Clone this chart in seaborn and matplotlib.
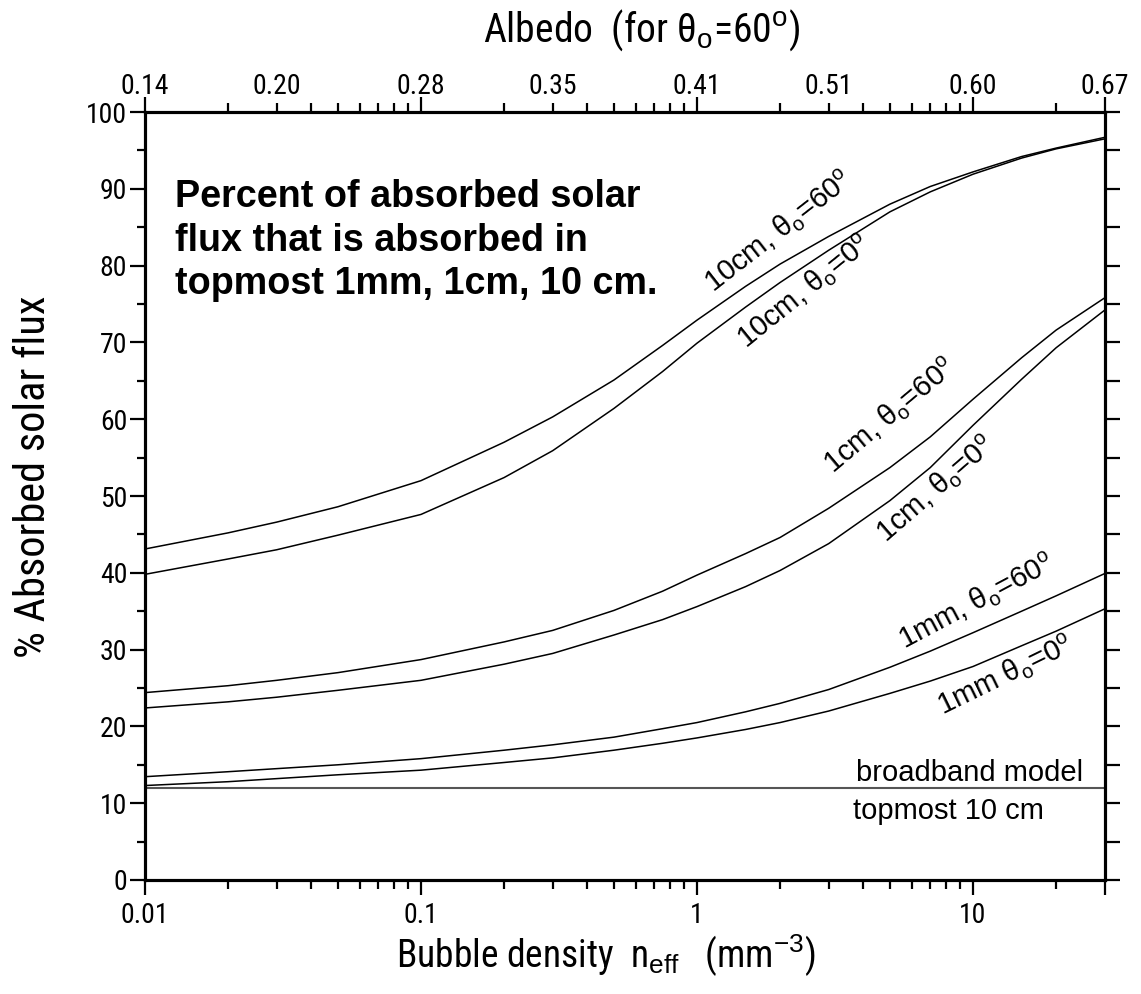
import matplotlib
matplotlib.use("Agg")
import matplotlib.pyplot as plt
import seaborn as sns
from matplotlib import font_manager
from matplotlib.ticker import FixedLocator, FuncFormatter, NullFormatter

# Bubble density n_eff (mm^-3)
n_eff = [0.01, 0.02, 0.03, 0.05, 0.1, 0.2, 0.3, 0.5, 0.75, 1, 1.5, 2, 3, 5, 7, 10, 15, 20, 30]

# % of absorbed solar flux absorbed in the topmost layer
cm10_sza60 = [43.1, 45.2, 46.6, 48.6, 52.0, 57.0, 60.3, 65.1, 69.6, 72.9, 77.3, 80.2, 83.8, 88.0, 90.3, 92.2, 94.2, 95.3, 96.7]
cm10_sza0 = [39.8, 41.8, 43.0, 44.9, 47.6, 52.4, 55.9, 61.4, 66.2, 69.9, 74.6, 77.8, 82.0, 87.0, 89.6, 91.9, 94.0, 95.2, 96.5]
cm1_sza60 = [24.4, 25.3, 26.0, 27.0, 28.7, 31.0, 32.5, 35.1, 37.6, 39.7, 42.5, 44.6, 48.4, 53.7, 57.7, 62.6, 68.0, 71.6, 75.8]
cm1_sza0 = [22.4, 23.2, 23.8, 24.7, 26.0, 28.1, 29.5, 31.9, 33.9, 35.6, 38.2, 40.3, 43.8, 49.4, 53.7, 59.2, 65.2, 69.3, 74.2]
mm1_sza60 = [13.45, 14.1, 14.5, 15.0, 15.8, 16.9, 17.6, 18.6, 19.7, 20.5, 21.9, 23.0, 24.8, 27.7, 29.8, 32.2, 35.0, 37.0, 39.9]
mm1_sza0 = [12.3, 12.8, 13.2, 13.7, 14.3, 15.3, 15.9, 16.9, 17.8, 18.5, 19.6, 20.5, 22.0, 24.3, 25.9, 27.8, 30.5, 32.4, 35.3]

# broadband model, topmost 10 cm
broadband_x = [0.01, 30]
broadband_y = [12.0, 12.0]

# bottom axis labels
bottom_ticks = [0.01, 0.1, 1, 10]
bottom_labels = ["0.01", "0.1", "1", "10"]

# top axis: albedo for theta_o = 60 deg at given n_eff
albedo_pos = [0.01, 0.03, 0.1, 0.3, 1, 3, 10, 30]
albedo_labels = ["0.14", "0.20", "0.28", "0.35", "0.41", "0.51", "0.60", "0.67"]

# curve labels: text, n_eff, percent, angle
curve_labels = [
    ("10cm, θ$_\\mathrm{o}$=60$^\\mathrm{o}$", 1.97, 84.4, 38),
    ("10cm, θ$_\\mathrm{o}$=0$^\\mathrm{o}$", 2.45, 76.6, 39),
    ("1cm, θ$_\\mathrm{o}$=60$^\\mathrm{o}$", 5.0, 60.4, 40),
    ("1cm, θ$_\\mathrm{o}$=0$^\\mathrm{o}$", 7.33, 50.9, 41),
    ("1mm, θ$_\\mathrm{o}$=60$^\\mathrm{o}$", 10.3, 36.2, 28),
    ("1mm θ$_\\mathrm{o}$=0$^\\mathrm{o}$", 13.1, 26.6, 26),
]

sns.set_theme(style="ticks")
installed = sorted({f.name for f in font_manager.fontManager.ttflist})
narrow = [n for n in installed if ("Narrow" in n or "Condensed" in n) and "Mono" not in n and "Serif" not in n]
narrow.sort(key=lambda n: (0 if "Liberation" in n else 1 if "Roboto" in n else 2, n))
if narrow:
    plt.rcParams["font.family"] = [narrow[0], "Liberation Sans", "DejaVu Sans"]
    TICK_FS, XLAB_FS, YLAB_FS, TLAB_FS = 20, 27, 30.5, 28.5
else:
    plt.rcParams["font.family"] = ["Liberation Sans", "DejaVu Sans"]
    TICK_FS, XLAB_FS, YLAB_FS, TLAB_FS = 17.5, 24, 26.5, 25
plt.rcParams["mathtext.fontset"] = "custom"
plt.rcParams["mathtext.rm"] = "Liberation Sans"
plt.rcParams["mathtext.it"] = "Liberation Sans:italic"
plt.rcParams["axes.linewidth"] = 2.2
for key in ["text.color", "axes.labelcolor", "xtick.color", "ytick.color", "axes.edgecolor"]:
    plt.rcParams[key] = "black"
REG = ["Liberation Sans", "DejaVu Sans"]

W, H = 1141, 994
fig = plt.figure(figsize=(W / 100, H / 100), dpi=100)
ax = fig.add_axes([145 / W, 114 / H, (1104.7 - 145) / W, 768 / H])

for ys in [cm10_sza60, cm10_sza0, cm1_sza60, cm1_sza0, mm1_sza60, mm1_sza0]:
    sns.lineplot(x=n_eff, y=ys, color="black", linewidth=1.1, ax=ax)
sns.lineplot(x=broadband_x, y=broadband_y, color="#555555", linewidth=1.5, ax=ax)

ax.set_xscale("log")
ax.set_xlim(0.01, 30)
ax.set_ylim(0, 100)

minor_x = [k * 10.0 ** e for e in (-2, -1, 0) for k in range(2, 10)] + [20]
ax.xaxis.set_major_locator(FixedLocator(bottom_ticks + [30]))
ax.xaxis.set_minor_locator(FixedLocator(minor_x))
bl = dict(zip(bottom_ticks, bottom_labels))
ax.xaxis.set_major_formatter(FuncFormatter(lambda v, p: bl.get(round(v, 4), "")))
ax.xaxis.set_minor_formatter(NullFormatter())
ax.yaxis.set_major_locator(FixedLocator(list(range(0, 101, 10))))
ax.yaxis.set_minor_locator(FixedLocator(list(range(5, 100, 10))))
ax.yaxis.set_major_formatter(FuncFormatter(lambda v, p: f"{int(round(v))}"))

ax.tick_params(axis="both", which="both", direction="out", width=1.6, colors="black",
               labelsize=TICK_FS, top=False, right=False)
ax.tick_params(axis="x", which="major", length=10.8, pad=5)
ax.tick_params(axis="x", which="minor", length=6.5)
ax.tick_params(axis="y", which="major", length=10.8, pad=2)
ax.tick_params(axis="y", which="minor", length=5.8)

ax.set_xlabel("Bubble density  n$_\\mathrm{eff}$   (mm$^\\mathrm{-3}$)", fontsize=XLAB_FS)
ax.xaxis.set_label_coords(0.48, -0.069)
ax.set_ylabel("% Absorbed solar flux", fontsize=YLAB_FS)
ax.yaxis.set_label_coords(-0.095, 0.525)

# right axis: unlabelled ticks every 5 %
axr = ax.twinx()
axr.set_ylim(0, 100)
axr.yaxis.set_major_locator(FixedLocator(list(range(0, 101, 5))))
axr.yaxis.set_major_formatter(NullFormatter())
axr.tick_params(axis="y", which="major", direction="out", length=10.8, width=1.6)
axr.tick_params(axis="x", which="both", bottom=False, top=False, labelbottom=False, labeltop=False)

# top axis: albedo
axt = ax.twiny()
axt.set_xscale("log")
axt.set_xlim(0.01, 30)
alb = dict(zip(albedo_pos, albedo_labels))
axt.xaxis.set_major_locator(FixedLocator([0.01, 0.1, 1, 10, 30]))
axt.xaxis.set_minor_locator(FixedLocator(minor_x))
axt.xaxis.set_major_formatter(FuncFormatter(lambda v, p: alb.get(round(v, 4), "")))
axt.xaxis.set_minor_formatter(FuncFormatter(lambda v, p: alb.get(round(v, 4), "")))
axt.tick_params(axis="x", which="both", direction="out", width=1.6, labelsize=TICK_FS)
axt.tick_params(axis="x", which="major", length=10.8, pad=-2.5)
axt.tick_params(axis="x", which="minor", length=6.5, pad=-2.5 + 4.3)
axt.tick_params(axis="y", which="both", left=False, right=False, labelleft=False, labelright=False)
axt.set_xlabel("Albedo  (for θ$_\\mathrm{o}$=60$^\\mathrm{o}$)", fontsize=TLAB_FS)
axt.xaxis.set_label_coords(0.518, 1.092)

for a in (ax, axr, axt):
    for s in a.spines.values():
        s.set_linewidth(2.2)
        s.set_color("black")

ax.text(0.031, 0.913, "Percent of absorbed solar\nflux that is absorbed in\ntopmost 1mm, 1cm, 10 cm.",
        transform=ax.transAxes, ha="left", va="top", fontsize=27.2, fontweight="bold",
        family=REG, linespacing=1.28)

for txt, x, y, rot in curve_labels:
    ax.text(x, y, txt, fontsize=21, family=REG, rotation=rot, rotation_mode="anchor",
            ha="center", va="center")

ax.text(0.977, 0.129, "broadband model", transform=ax.transAxes, ha="right",
        va="baseline", fontsize=21, family=REG)
ax.text(0.738, 0.108, "topmost 10 cm", transform=ax.transAxes, ha="left",
        va="top", fontsize=21, family=REG)

fig.savefig("out.png", dpi=100, facecolor="white")
